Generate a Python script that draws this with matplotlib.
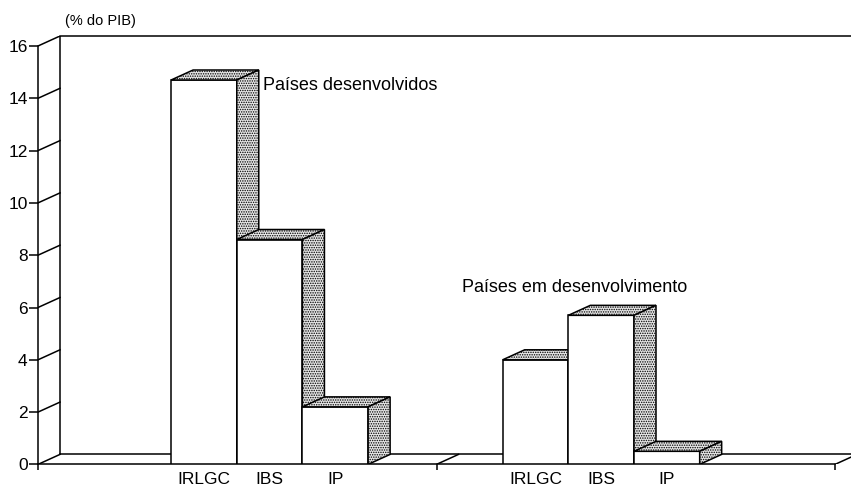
import matplotlib
matplotlib.use('Agg')
import matplotlib.pyplot as plt
from matplotlib.patches import Polygon

plt.rcParams['font.family'] = ['Liberation Sans', 'DejaVu Sans']
plt.rcParams['hatch.linewidth'] = 0.7

# ---- data ----
series = ['IRLGC', 'IBS', 'IP']
categories = ['Países desenvolvidos', 'Países em desenvolvimento']
values_desenvolvidos = [14.7, 8.6, 2.2]
values_em_desenvolvimento = [4.0, 5.7, 0.5]
y_ticks = [0, 2, 4, 6, 8, 10, 12, 14, 16]
y_unit_label = '(% do PIB)'

# ---- layout ----
W, H = 851, 486
XSCALE = 398.5   # px per category
YSCALE = 26.15   # px per unit
DX = 22 / XSCALE
DY = 10 / YSCALE
group_start = [0.334, 1.166]
bar_w = 0.1648
LW = 1.1
HATCH = '.......'
SHADE = '#e6e6e6'

fig = plt.figure(figsize=(W / 100, H / 100), dpi=100)
ax = fig.add_axes([38 / W, 21.6 / H, 813 / W, (16 * YSCALE + 10) / H])
ax.set_xlim(0, 813 / XSCALE)
ax.set_ylim(0, 16 + DY)
ax.patch.set_visible(False)
for s in ['top', 'right']:
    ax.spines[s].set_visible(False)
ax.spines['left'].set_bounds(0, 16)
ax.spines['bottom'].set_bounds(0, 2)
for s in ['left', 'bottom']:
    ax.spines[s].set_linewidth(LW)

ncat = len(categories)
# y axis ticks
ax.set_yticks(y_ticks)
ax.set_yticklabels([str(t) for t in y_ticks])
ax.tick_params(axis='y', direction='out', length=6.5, width=LW, pad=1, labelsize=12.5)
# x axis: category boundaries as major ticks, series labels as minor
ax.set_xticks(range(ncat + 1))
ax.set_xticklabels([''] * (ncat + 1))
ax.tick_params(axis='x', which='major', direction='out', length=4, width=LW)
centers, labels = [], []
for g in range(ncat):
    for i, s in enumerate(series):
        centers.append(group_start[g] + (i + 0.5) * bar_w)
        labels.append(s)
ax.set_xticks(centers, minor=True)
ax.set_xticklabels(labels, minor=True, fontsize=12.5)
ax.tick_params(axis='x', which='minor', length=0, pad=5.5)

# back wall and floor
xr = ax.get_xlim()[1]
ax.plot([DX, DX], [DY, 16 + DY], color='black', lw=LW, zorder=1)
ax.plot([DX, xr], [16 + DY, 16 + DY], color='black', lw=LW, zorder=1, clip_on=False)
ax.plot([DX, ncat + DX], [DY, DY], color='black', lw=LW, zorder=1)
for t in y_ticks:
    ax.plot([0, DX], [t, t + DY], color='black', lw=LW, zorder=1)
for b in range(1, ncat + 1):
    ax.plot([b, b + DX], [0, DY], color='black', lw=LW, zorder=1)

# bars
z = 3
for g, vals in enumerate([values_desenvolvidos, values_em_desenvolvimento]):
    for i, v in enumerate(vals):
        x0 = group_start[g] + i * bar_w
        x1 = x0 + bar_w
        ax.bar(x0, v, width=bar_w, align='edge', facecolor='white',
               edgecolor='black', linewidth=LW, zorder=z)
        top = Polygon([(x0, v), (x1, v), (x1 + DX, v + DY), (x0 + DX, v + DY)],
                      closed=True, facecolor=SHADE, edgecolor='black',
                      hatch=HATCH, linewidth=LW, zorder=z)
        side = Polygon([(x1, 0), (x1, v), (x1 + DX, v + DY), (x1 + DX, DY)],
                       closed=True, facecolor=SHADE, edgecolor='black',
                       hatch=HATCH, linewidth=LW, zorder=z)
        ax.add_patch(top)
        ax.add_patch(side)
        z += 1

# category annotations
v0 = values_desenvolvidos[0]
ax.annotate(categories[0], xy=(group_start[0] + bar_w + DX, v0),
            xytext=(3, -7), textcoords='offset points', fontsize=13,
            ha='left', va='baseline')
ax.text(1.065, 6.6, categories[1], fontsize=13, ha='left', va='baseline')

fig.text(65 / W, 1 - 21 / H, y_unit_label, fontsize=10.5, ha='left', va='center')

fig.savefig('out.png', dpi=100)
